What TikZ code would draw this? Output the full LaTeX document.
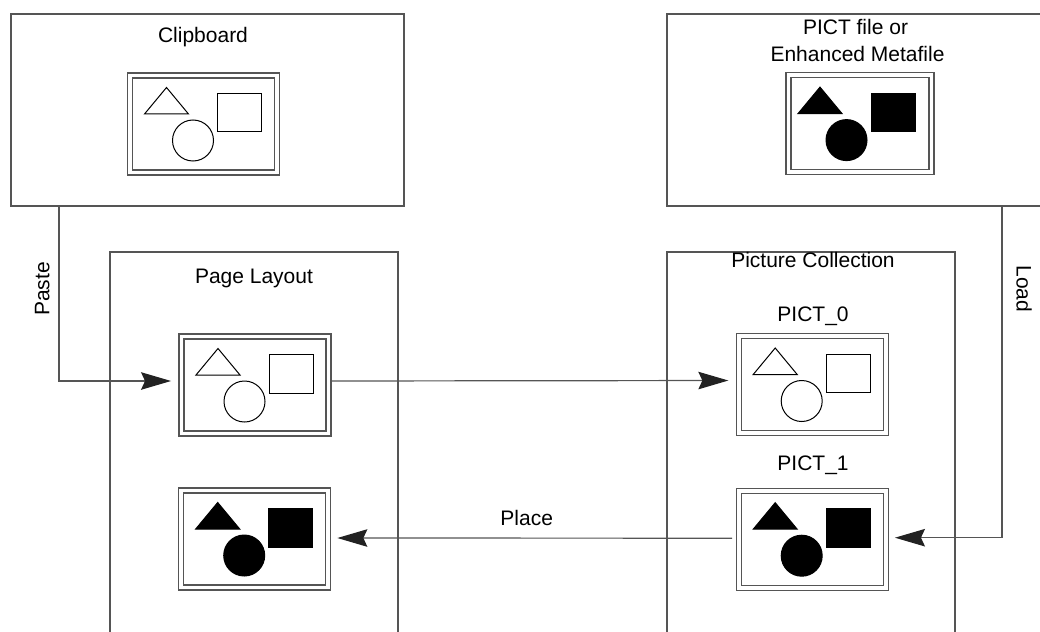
\documentclass[tikz,border=0pt]{standalone}
\usepackage{fontspec}
\setmainfont{Liberation Sans}
\usetikzlibrary{arrows.meta,calc}
\definecolor{linegray}{HTML}{555555}
\definecolor{tipgray}{HTML}{222222}
\begin{document}
\begin{tikzpicture}[x=1pt,y=-1pt,
  bigbox/.style={draw=linegray,line width=1.6pt,inner sep=0pt},
  frm/.style={draw=linegray,double=white,line width=1.3pt,double distance=3.7pt,minimum width=147pt,minimum height=97pt,inner sep=0pt},
  conn/.style={draw=linegray,line width=1.2pt,-{Stealth[length=30pt,width=17.5pt,inset=4pt,color=tipgray]}},
  lbl/.style={font=\fontsize{21}{25}\selectfont,inner sep=0pt,anchor=base},
  glyphopen/.style={draw=black,line width=1pt,fill=white},
  glyphfill/.style={draw=black,line width=1pt,fill=black},
  pics/glyphs/.style={code={
    \path[#1] (-37,-36.5) -- (-15,-10) -- (-59,-10) -- cycle;
    \path[#1] (14,-30.5) rectangle (58,8);
    \path[#1] (-10.5,16.5) circle[radius=20.5];
  }}]
\useasboundingbox (0,0) rectangle (1040,631);
\clip (0,0) rectangle (1040,631);

% big boxes
\node[bigbox,minimum width=393pt,minimum height=192pt] (cbbox) at (207.5,110) {};
\node[bigbox,minimum width=393pt,minimum height=192pt] (pfbox) at (863.5,110) {};
\node[bigbox,minimum width=288pt,minimum height=408pt] (plbox) at (254,456) {};
\node[bigbox,minimum width=288pt,minimum height=408pt] (pcbox) at (811,456) {};

% picture frames
\node[frm] (cbf) at (203.5,124) {};
\pic at (cbf.center) {glyphs=glyphopen};
\node[frm,minimum width=143pt] (pff) at (860,123.6) {};
\pic at ([xshift=-3pt]pff.center) {glyphs=glyphfill};
\node[frm] (pl1) at (255,385) {};
\pic at (pl1.center) {glyphs=glyphopen};
\node[frm] (pl2) at (254.7,539) {};
\pic at (pl2.center) {glyphs=glyphfill};
\node[frm] (p0) at (812.2,384.5) {};
\pic at (p0.center) {glyphs=glyphopen};
\node[frm] (p1) at (812.2,539.2) {};
\pic at (p1.center) {glyphs=glyphfill};

% connectors
\coordinate (pastetop) at (59,206);
\coordinate (loadtop) at (1002,206);
\draw[conn,shorten >=9.8pt] (pastetop) |- ([yshift=4pt]pl1.west);
\draw[conn,shorten <=2.5pt,shorten >=9.7pt] ([yshift=4pt]pl1.east) -- ([yshift=4pt]p0.west);
\draw[conn,shorten <=6pt,shorten >=8.5pt] ([yshift=1pt]p1.west) -- ([yshift=1pt]pl2.east);
\draw[conn,shorten >=8.6pt] (loadtop) |- ([yshift=1.5pt]p1.east);

% labels
\node[lbl] (tclip) at (203,43) {Clipboard};
\node[lbl] (tpict) at (855.5,34.3) {PICT file or};
\node[lbl] (tenh) at (857.5,61.7) {Enhanced Metafile};
\node[lbl] (tpl) at (254,283) {Page Layout};
\node[lbl] (tpc) at (813,267) {Picture Collection};
\node[lbl] (tp0) at (813,321) {PICT\_0};
\node[lbl] (tp1) at (813,470) {PICT\_1};
\node[lbl] (tplace) at (526.7,525) {Place};
\node[lbl,rotate=90] (tpaste) at (49.3,289) {Paste};
\node[lbl,rotate=-90] (tload) at (1016.7,289) {Load};
\end{tikzpicture}
\end{document}
